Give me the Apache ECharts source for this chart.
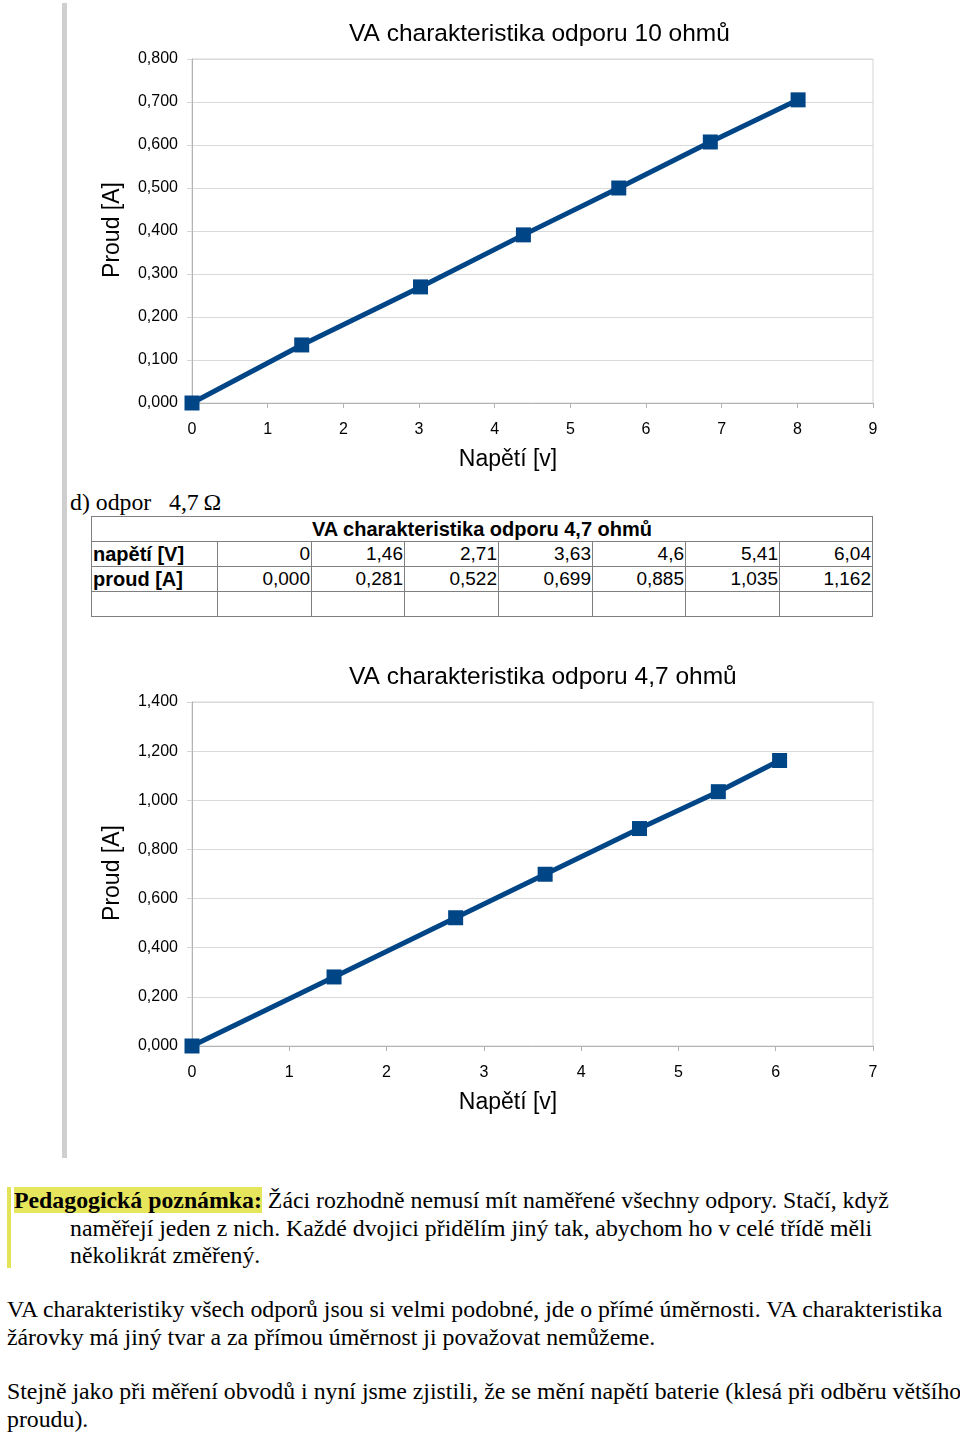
<!DOCTYPE html>
<html>
<head>
<meta charset="utf-8">
<script src="https://cdn.jsdelivr.net/npm/echarts@6/dist/echarts.min.js"></script>
<style>
  html, body { margin:0; padding:0; background:#fff; }
  body { width:960px; height:1435px; position:relative; overflow:hidden; }
  .abs { position:absolute; white-space:nowrap; }
  .serif { font-family:"Liberation Serif","Times New Roman",serif; color:#000; font-size:23.8px; line-height:27px; }
  #grayBar { left:62px; top:3px; width:5px; height:1155px; background:#cfcfcf; }
  #yellowBar { left:7px; top:1187px; width:4px; height:81px; background:#e3e35a; }
  table.va { position:absolute; left:91px; top:516px; border-collapse:collapse;
    font-family:"Liberation Sans",Arial,sans-serif; font-size:19px; color:#000; }
  table.va td { border:1px solid #7f7f7f; height:24px; padding:0 1px; line-height:24px; text-align:right; }
  table.va td.lab { text-align:left; font-weight:bold; font-size:20px; }
  table.va td.head { text-align:center; font-weight:bold; font-size:20px; }
  .hl { background:#e6e65c; font-weight:bold; }
</style>
</head>
<body>
<div id="grayBar" class="abs"></div>
<div id="c1" class="abs" style="left:0;top:0;width:960px;height:480px;"></div>

<div class="abs serif" style="left:70px;top:489px;">d) odpor</div>
<div class="abs serif" style="left:169px;top:489px;">4,7&thinsp;Ω</div>
<table class="va" id="tbl"></table>

<div id="c2" class="abs" style="left:0;top:630px;width:960px;height:520px;"></div>

<div id="yellowBar" class="abs"></div>
<div class="abs serif" style="left:14px;top:1187px;"><span class="hl">Pedagogická poznámka:</span> Žáci rozhodně nemusí mít naměřené všechny odpory. Stačí, když</div>
<div class="abs serif" style="left:70px;top:1215px;">naměřejí jeden z nich. Každé dvojici přidělím jiný tak, abychom ho v celé třídě měli</div>
<div class="abs serif" style="left:70px;top:1242px;">několikrát změřený.</div>
<div class="abs serif" style="left:7px;top:1296px;">VA charakteristiky všech odporů jsou si velmi podobné, jde o přímé úměrnosti. VA charakteristika</div>
<div class="abs serif" style="left:7px;top:1324px;">žárovky má jiný tvar a za přímou úměrnost ji považovat nemůžeme.</div>
<div class="abs serif" style="left:7px;top:1378px;">Stejně jako při měření obvodů i nyní jsme zjistili, že se mění napětí baterie (klesá při odběru většího</div>
<div class="abs serif" style="left:7px;top:1406px;">proudu).</div>

<script>
// ---- data ----
var title10 = "VA charakteristika odporu 10 ohmů";
var napeti10 = [0, 1.45, 3.02, 4.38, 5.64, 6.85, 8.01];
var proud10  = [0, 0.135, 0.270, 0.391, 0.500, 0.607, 0.705];

var title47 = "VA charakteristika odporu 4,7 ohmů";
var napeti47 = [0, 1.46, 2.71, 3.63, 4.6, 5.41, 6.04];
var proud47  = [0.000, 0.281, 0.522, 0.699, 0.885, 1.035, 1.162];
var napeti47Labels = ["0", "1,46", "2,71", "3,63", "4,6", "5,41", "6,04"];
var proud47Labels  = ["0,000", "0,281", "0,522", "0,699", "0,885", "1,035", "1,162"];

var xName = "Napětí [v]";
var yName = "Proud [A]";
var rowLabelU = "napětí [V]";
var rowLabelI = "proud [A]";

// ---- table ----
(function(){
  var widths = [126, 94, 93, 94, 94, 93, 94, 93];
  var t = document.getElementById('tbl');
  var h = '<tr><td class="head" colspan="8">' + title47 + '</td></tr>';
  h += '<tr><td class="lab" style="width:' + (widths[0]-3) + 'px">' + rowLabelU + '</td>';
  for (var i = 0; i < napeti47Labels.length; i++) h += '<td style="width:' + (widths[i+1]-3) + 'px">' + napeti47Labels[i] + '</td>';
  h += '</tr><tr><td class="lab">' + rowLabelI + '</td>';
  for (var j = 0; j < proud47Labels.length; j++) h += '<td>' + proud47Labels[j] + '</td>';
  h += '</tr><tr>';
  for (var k = 0; k < 8; k++) h += '<td></td>';
  h += '</tr>';
  t.innerHTML = h;
})();

// ---- charts ----
var FONT = '"Liberation Sans", Arial, sans-serif';
function fmt3(v){ return v.toFixed(3).replace('.', ','); }

function makeOption(cfg){
  var data = cfg.x.map(function(v, i){ return [v, cfg.y[i]]; });
  return {
    animation: false,
    textStyle: { fontFamily: FONT },
    title: {
      text: cfg.title, left: 349, top: cfg.titleTop, padding: 0,
      textStyle: { fontFamily: FONT, fontSize: 24.5, fontWeight: 'normal', color: '#000' }
    },
    grid: { left: 192, top: cfg.gridTop, width: 681, height: 344, show: true,
            borderColor: '#d4d4d4', borderWidth: 1, backgroundColor: 'transparent' },
    xAxis: {
      type: 'value', min: 0, max: cfg.xMax, interval: 1,
      axisLine: { show: true, lineStyle: { color: '#b3b3b3', width: 1 } },
      axisTick: { show: true, length: 5, lineStyle: { color: '#b3b3b3' } },
      splitLine: { show: false },
      axisLabel: { color: '#000', fontSize: 16, fontFamily: FONT, margin: 19 }
    },
    yAxis: {
      type: 'value', min: 0, max: cfg.yMax, interval: cfg.yInt,
      axisLine: { show: true, lineStyle: { color: '#b3b3b3', width: 1 } },
      axisTick: { show: true, length: 5, lineStyle: { color: '#d4d4d4' } },
      splitLine: { show: true, lineStyle: { color: '#d9d9d9', width: 1 } },
      axisLabel: { color: '#000', fontSize: 16, fontFamily: FONT, margin: 14, formatter: fmt3 }
    },
    graphic: [
      { type: 'text', x: 508, y: cfg.xNameY,
        style: { text: xName, textAlign: 'center', textVerticalAlign: 'middle', font: '23px ' + FONT, fill: '#000' } },
      { type: 'text', x: 113, y: cfg.yNameY, rotation: Math.PI/2,
        style: { text: yName, textAlign: 'center', textVerticalAlign: 'middle', font: '23px ' + FONT, fill: '#000' } }
    ],
    series: [{
      type: 'line', data: data, symbol: 'rect', symbolSize: 15,
      lineStyle: { color: '#004586', width: 5 },
      itemStyle: { color: '#004586' }
    }]
  };
}

var c1 = echarts.init(document.getElementById('c1'));
c1.setOption(makeOption({ title: title10, titleTop: 22, gridTop: 59, xMax: 9, yMax: 0.8, yInt: 0.1,
  x: napeti10, y: proud10, xNameY: 460, yNameY: 230 }));

var c2 = echarts.init(document.getElementById('c2'));
c2.setOption(makeOption({ title: title47, titleTop: 35, gridTop: 72, xMax: 7, yMax: 1.4, yInt: 0.2,
  x: napeti47, y: proud47, xNameY: 473, yNameY: 243 }));
</script>
</body>
</html>
